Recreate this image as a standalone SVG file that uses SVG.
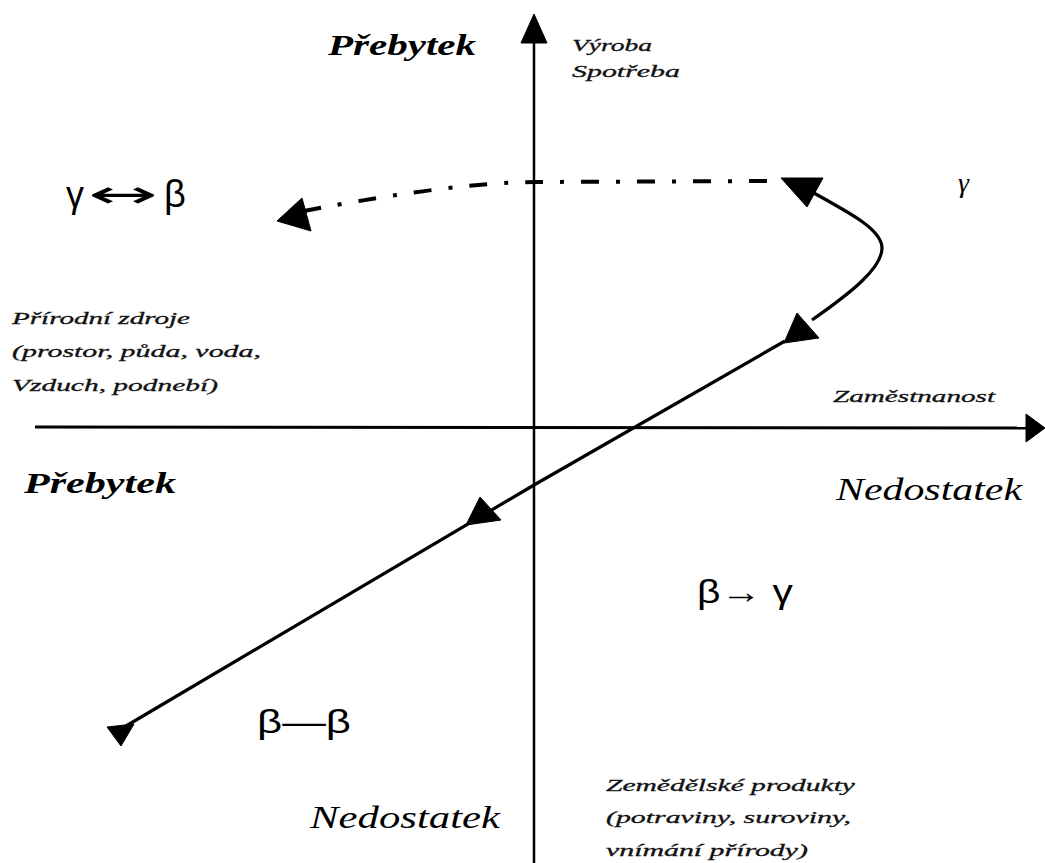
<svg xmlns="http://www.w3.org/2000/svg" width="1045" height="863" viewBox="0 0 1045 863">
<style>
.ax{stroke:#000;stroke-width:2.5;fill:none}
.ln{stroke:#000;stroke-width:3.2;fill:none;stroke-linejoin:round}
.dd{stroke:#000;stroke-width:4;fill:none;stroke-dasharray:18 17 4 17}
.hd{fill:#000;stroke:#000;stroke-width:1;stroke-linejoin:round}
.big{font-family:"Liberation Serif",serif;font-style:italic;fill:#000}
.sm{font-family:"Liberation Serif",serif;font-style:italic;font-size:17px;fill:#111;stroke:#111;stroke-width:0.3}
.gr{font-family:"Liberation Sans","DejaVu Sans",sans-serif;font-size:33px;fill:#000}
</style>
<rect width="1045" height="863" fill="#fff"/>
<g id="axes">
<line class="ax" x1="534" y1="40" x2="534" y2="863"/>
<polygon class="hd" points="534,14 521,43 547,43"/>
<line class="ax" x1="35" y1="427" x2="1030" y2="428" style="stroke-width:3"/>
<polygon class="hd" points="1045,428 1026,414 1026,442"/>
</g>
<g id="connectors">
<path class="dd" d="M767,181 L534,182 Q450,183 304,211"/>
<polygon class="hd" points="277,221 302,198 311,231"/>
<path class="ln" d="M812,192 C852,214 882,230 882,248 C882,268 852,292 812,320"/>
<polygon class="hd" points="781,178 823,178 807,207"/>
<polygon class="hd" points="784,343 797,313 819,338"/>
<path class="ln" d="M785,341 L534,485 L126,726"/>
<polygon class="hd" points="466,525 480,497 501,520"/>
<polygon class="hd" points="107,727 134,724 121,746"/>
</g>
<g id="label-prebytek-top"><text class="big" x="328" y="55" font-size="30" font-weight="bold" textLength="148" lengthAdjust="spacingAndGlyphs">Přebytek</text></g>
<g id="label-vyroba"><text class="sm" x="572" y="51" textLength="80" lengthAdjust="spacingAndGlyphs">Výroba</text>
<text class="sm" x="572" y="77" textLength="108" lengthAdjust="spacingAndGlyphs">Spotřeba</text></g>
<g id="label-gamma-beta"><text class="gr" y="207"><tspan x="66" font-size="36">γ</tspan><tspan x="88" font-family="DejaVu Sans, sans-serif" font-size="38" textLength="70" lengthAdjust="spacingAndGlyphs">↔</tspan><tspan x="164" font-size="38">β</tspan></text></g>
<g id="label-gamma"><text class="big" x="958" y="192" font-size="28">γ</text></g>
<g id="label-zdroje">
<text class="sm" x="12" y="324" textLength="178" lengthAdjust="spacingAndGlyphs">Přírodní zdroje</text>
<text class="sm" x="12" y="357" textLength="249" lengthAdjust="spacingAndGlyphs">(prostor, půda, voda,</text>
<text class="sm" x="12" y="391" textLength="206" lengthAdjust="spacingAndGlyphs">Vzduch, podnebí)</text>
</g>
<g id="label-zamestnanost"><text class="sm" x="833" y="402" textLength="162" lengthAdjust="spacingAndGlyphs">Zaměstnanost</text></g>
<g id="label-prebytek-left"><text class="big" x="24" y="493" font-size="30" font-weight="bold" textLength="152" lengthAdjust="spacingAndGlyphs">Přebytek</text></g>
<g id="label-nedostatek-right"><text class="big" x="836" y="500" font-size="32" textLength="186" lengthAdjust="spacingAndGlyphs">Nedostatek</text></g>
<g id="label-beta-gamma"><text class="gr" x="697" y="603" textLength="96" lengthAdjust="spacingAndGlyphs">β→ γ</text></g>
<g id="label-beta-beta"><text class="gr" x="257" y="733" textLength="94" lengthAdjust="spacingAndGlyphs">β—β</text></g>
<g id="label-nedostatek-bottom"><text class="big" x="310" y="828" font-size="32" textLength="190" lengthAdjust="spacingAndGlyphs">Nedostatek</text></g>
<g id="label-zemedelske">
<text class="sm" x="606" y="791" textLength="249" lengthAdjust="spacingAndGlyphs">Zemědělské produkty</text>
<text class="sm" x="606" y="823" textLength="245" lengthAdjust="spacingAndGlyphs">(potraviny, suroviny,</text>
<text class="sm" x="606" y="856" textLength="202" lengthAdjust="spacingAndGlyphs">vnímání přírody)</text>
</g>
</svg>
